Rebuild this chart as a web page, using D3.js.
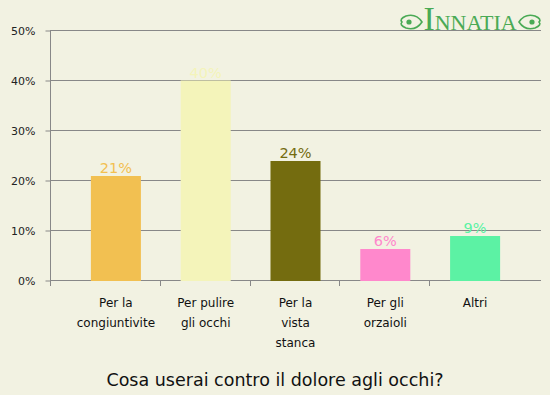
<!DOCTYPE html>
<html>
<head>
<meta charset="utf-8">
<script src="https://cdn.jsdelivr.net/npm/d3@7"></script>
<style>
  body { margin: 0; background: #f2f2e2; }
  svg { display: block; font-family: "DejaVu Sans", Verdana, sans-serif; }
</style>
</head>
<body>
<script>
var categories = ["Per la|congiuntivite", "Per pulire|gli occhi", "Per la|vista|stanca", "Per gli|orzaioli", "Altri"];
var values = [21, 40.1, 24, 6.4, 9];
var colors = ["#f2c051", "#f4f4ba", "#746c0f", "#ff88cc", "#5cf2a4"];
var yTicks = [0, 10, 20, 30, 40, 50];
var title = "Cosa userai contro il dolore agli occhi?";

var w = 550, h = 395;
var margin = { top: 31, left: 50, right: 9, bottom: 114 };

var svg = d3.select("body").append("svg")
  .attr("width", w)
  .attr("height", h);

svg.append("rect")
  .attr("width", w)
  .attr("height", h)
  .attr("fill", "#f2f2e2");

var x = d3.scaleBand()
  .domain(categories)
  .range([71, 520])
  .paddingInner(0.443)
  .paddingOuter(0.2215);

var y = d3.scaleLinear()
  .domain([0, 50])
  .range([h - margin.bottom, margin.top]);

// gridlines
svg.append("g")
  .selectAll("line")
  .data(yTicks)
  .join("line")
  .attr("x1", margin.left)
  .attr("x2", w - margin.right)
  .attr("y1", function (d) { return y(d) - 0.5; })
  .attr("y2", function (d) { return y(d) - 0.5; })
  .attr("stroke", "#888")
  .attr("stroke-width", 1);

// y axis
var yAxis = d3.axisLeft(y)
  .tickValues(yTicks)
  .tickSize(5)
  .tickPadding(10)
  .tickFormat(function (d) { return d + "%"; });

var yg = svg.append("g")
  .attr("transform", "translate(" + (margin.left + 0.5) + ",-0.5)")
  .call(yAxis);
yg.select(".domain").remove();
yg.selectAll(".tick line").attr("stroke", "#888");
yg.selectAll(".tick text")
  .attr("fill", "#222")
  .style("font-size", "11px")
  .style("font-family", "DejaVu Sans, Verdana, sans-serif");

svg.append("line")
  .attr("x1", margin.left + 0.5)
  .attr("x2", margin.left + 0.5)
  .attr("y1", y(50) - 1)
  .attr("y2", y(0) + 5)
  .attr("stroke", "#888");

// bars
svg.append("g")
  .selectAll("rect")
  .data(values)
  .join("rect")
  .attr("x", function (d, i) { return x(categories[i]); })
  .attr("y", function (d) { return y(d); })
  .attr("width", x.bandwidth())
  .attr("height", function (d) { return y(0) - y(d); })
  .attr("fill", function (d, i) { return colors[i]; });

// value labels
svg.append("g")
  .selectAll("text")
  .data(values)
  .join("text")
  .attr("x", function (d, i) { return x(categories[i]) + x.bandwidth() / 2; })
  .attr("y", function (d) { return y(d) - 3; })
  .attr("text-anchor", "middle")
  .attr("fill", function (d, i) { return colors[i]; })
  .style("font-size", "14.5px")
  .text(function (d) { return Math.round(d) + "%"; });

// category boundary ticks
var gap = (x.step() - x.bandwidth()) / 2;
svg.append("g")
  .selectAll("line")
  .data(categories.slice(0, -1))
  .join("line")
  .attr("x1", function (d) { return Math.round(x(d) + x.bandwidth() + gap) - 0.5; })
  .attr("x2", function (d) { return Math.round(x(d) + x.bandwidth() + gap) - 0.5; })
  .attr("y1", y(0))
  .attr("y2", y(0) + 5)
  .attr("stroke", "#888");

// category labels
var cl = svg.append("g")
  .selectAll("text")
  .data(categories)
  .join("text")
  .attr("x", function (d) { return x(d) + x.bandwidth() / 2; })
  .attr("y", y(0) + 26)
  .attr("text-anchor", "middle")
  .attr("fill", "#111")
  .style("font-size", "12px");

cl.selectAll("tspan")
  .data(function (d) { return d.split("|"); })
  .join("tspan")
  .attr("x", function () { return d3.select(this.parentNode).attr("x"); })
  .attr("dy", function (d, i) { return i === 0 ? 0 : 20; })
  .text(function (d) { return d; });

// title
svg.append("text")
  .attr("x", w / 2)
  .attr("y", 386)
  .attr("text-anchor", "middle")
  .attr("fill", "#111")
  .style("font-size", "17.5px")
  .text(title);

// logo
var logo = svg.append("g");
var green = "#4aaa55";
logo.append("text")
  .attr("x", 470)
  .attr("y", 30)
  .attr("text-anchor", "middle")
  .attr("fill", green)
  .style("font-family", "Liberation Serif, DejaVu Serif, serif")
  .selectAll("tspan")
  .data([["I", 34], ["NNATIA", 22]])
  .join("tspan")
  .style("font-size", function (d) { return d[1] + "px"; })
  .text(function (d) { return d[0]; });

[[410, -1], [531, 1]].forEach(function (o) {
  var g = logo.append("g").attr("transform", "translate(" + o[0] + ",22) scale(" + o[1] + ",1)");
  g.append("path")
    .attr("d", "M-12,0 Q-6,-9 4,-6 Q11,-3 8,0 Q11,3 4,6 Q-6,9 -12,0 Z")
    .attr("fill", "none")
    .attr("stroke", green)
    .attr("stroke-width", 1.6);
  g.append("circle").attr("cx", 1).attr("cy", 0).attr("r", 2.6).attr("fill", green);
});
</script>
</body>
</html>
